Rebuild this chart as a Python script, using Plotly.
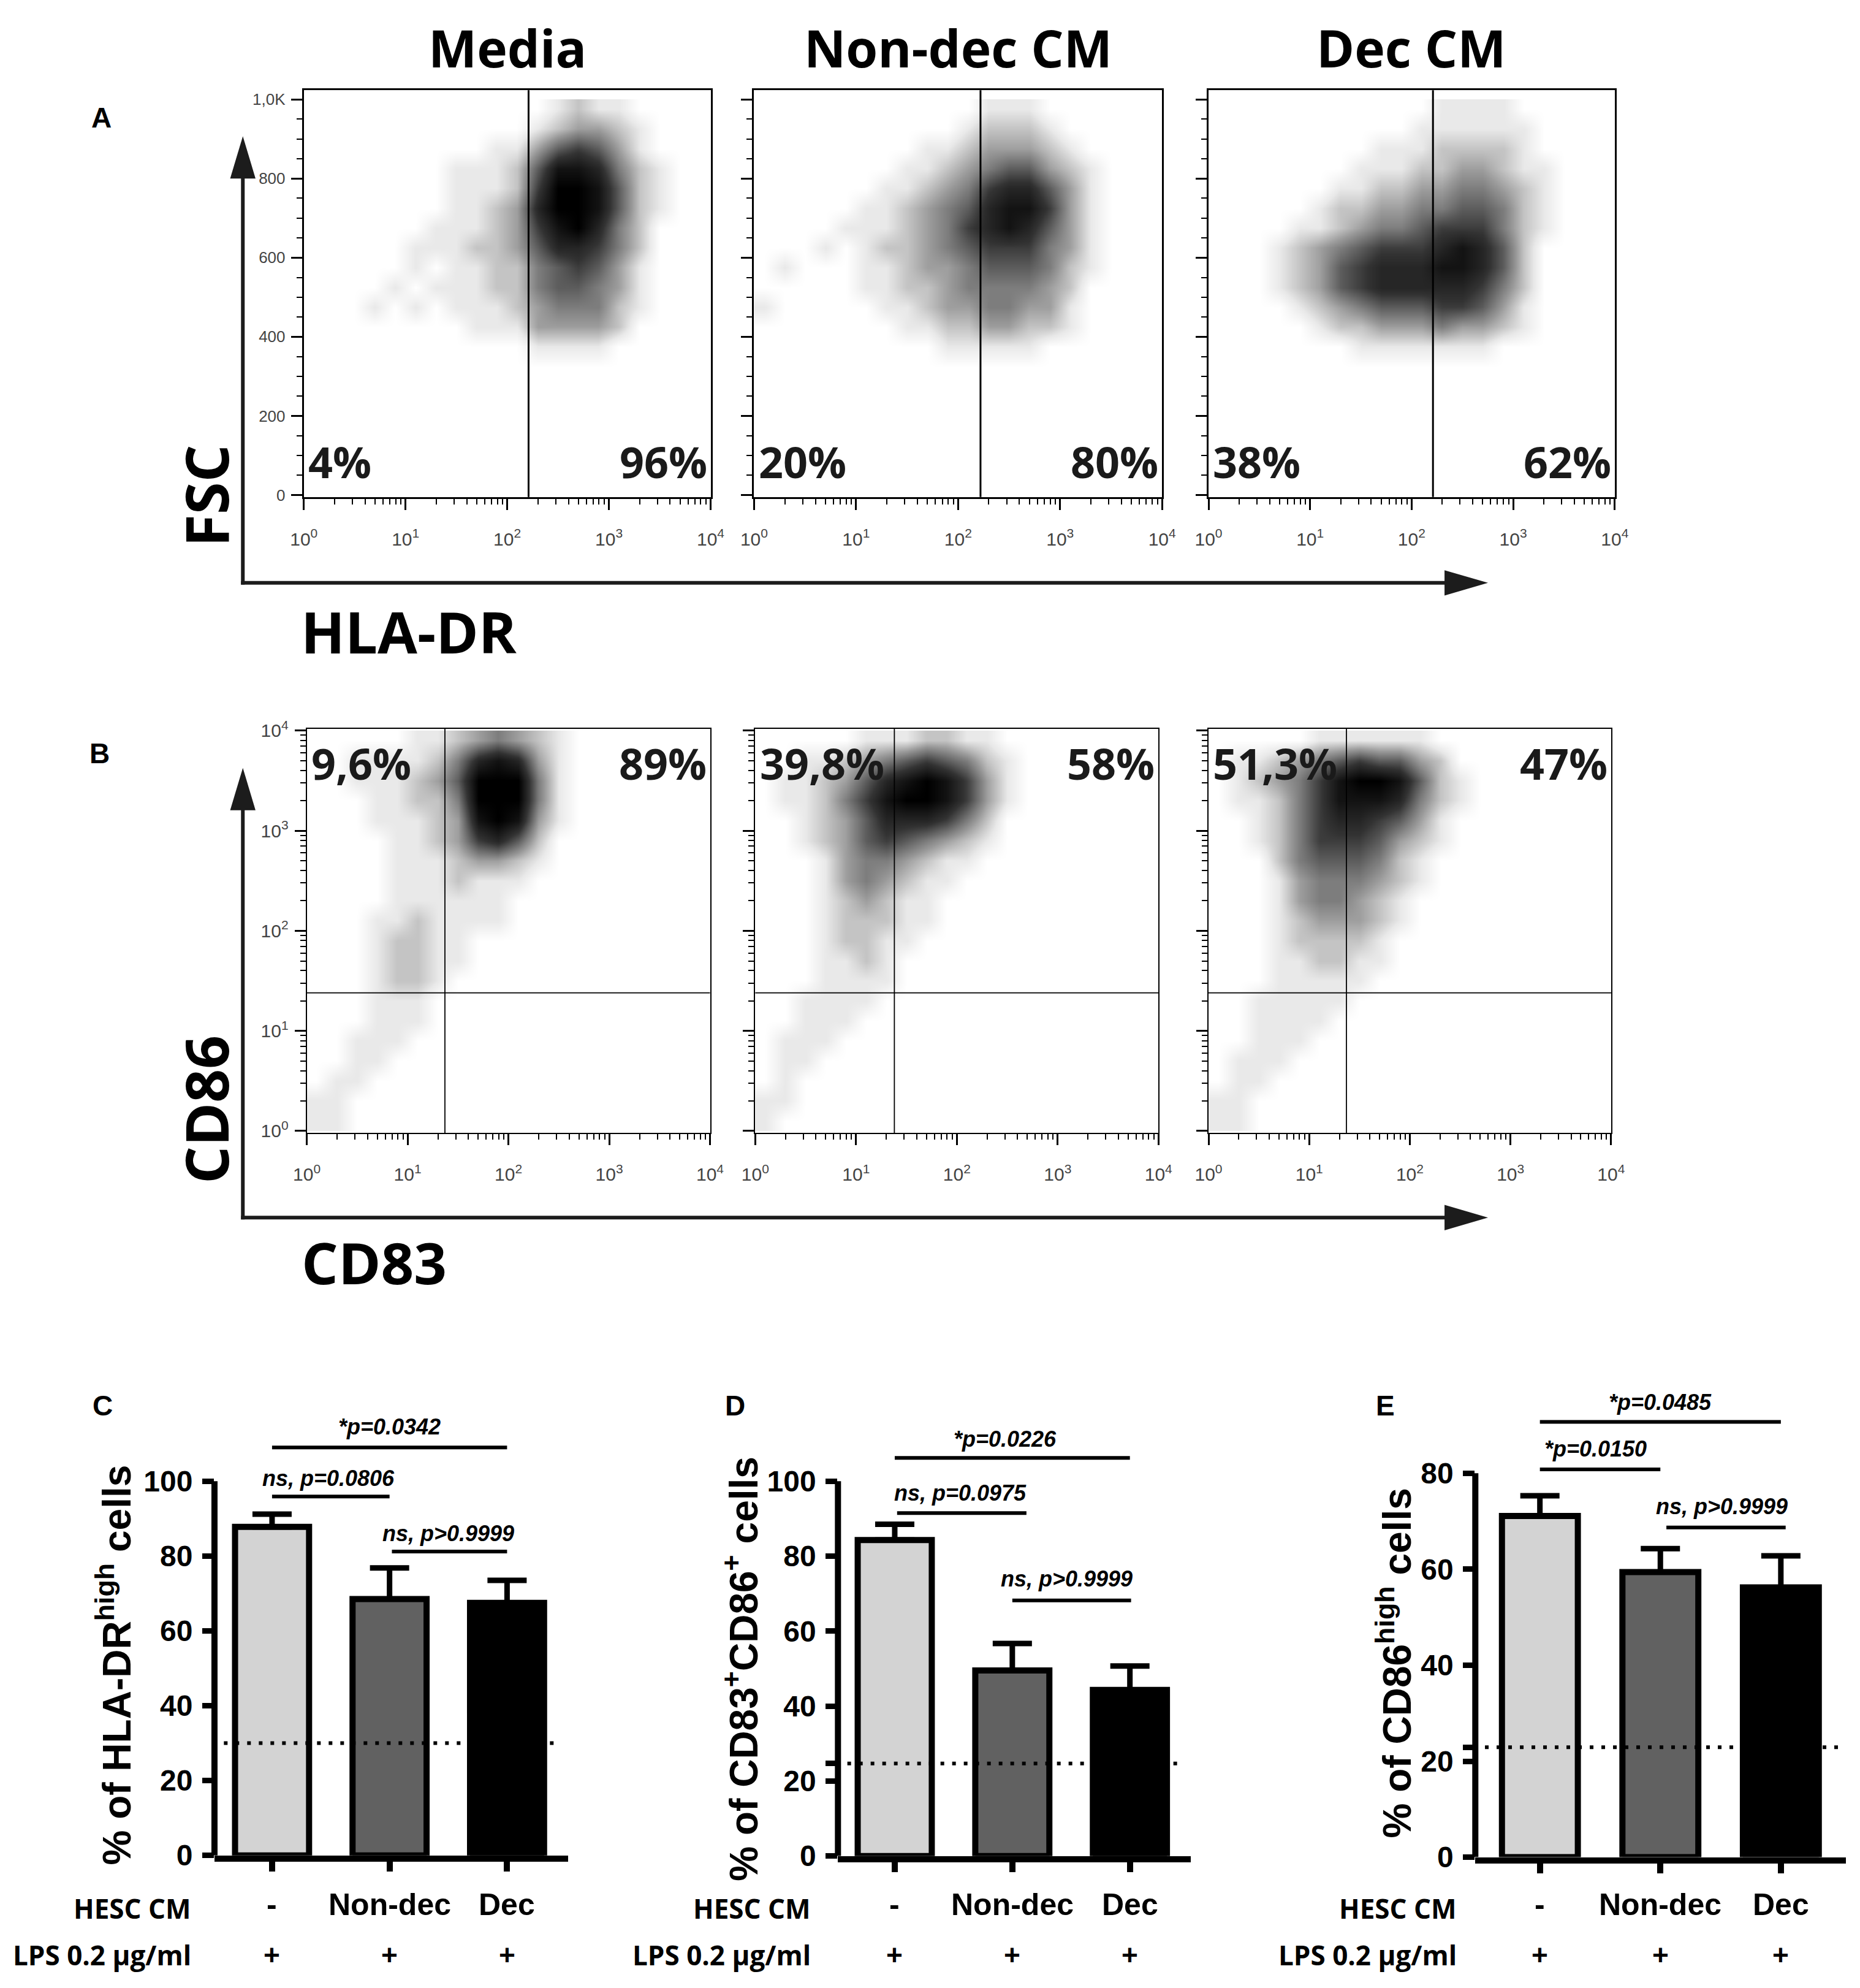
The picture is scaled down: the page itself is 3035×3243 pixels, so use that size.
import numpy as np
import plotly.graph_objects as go

W, H = 3035, 3243

# ---- flow cytometry panels (A, B) ----
CONDITIONS = ['Media', 'Non-dec CM', 'Dec CM']

# bin centres, in decades for the log channels and in FSC units for FSC
LOG_BINS = [0.1, 0.3, 0.5, 0.7, 0.9, 1.1, 1.3, 1.5, 1.7, 1.9,
            2.1, 2.3, 2.5, 2.7, 2.9, 3.1, 3.3, 3.5, 3.7, 3.9]
FSC_BINS = [25, 75, 125, 175, 225, 275, 325, 375, 425, 475,
            525, 575, 625, 675, 725, 775, 825, 875, 925, 975]

# event density, 0 = empty .. 9 = solid black
# rows run from the top of the plot down, columns left to right
media_hla = [
    "00000000000012110000",
    "00000000000123321000",
    "00000000011356531000",
    "00000001112588742100",
    "00000001112699852100",
    "00000001123799852100",
    "00000011123689742000",
    "00000111223577642000",
    "00000101122456531000",
    "00001011122455431000",
    "00010101112344421000",
    "00000000111333320000",
    "00000000000111100000",
    "00000000000000000000",
    "00000000000000000000",
    "00000000000000000000",
    "00000000000000000000",
    "00000000000000000000",
    "00000000000000000000",
    "00000000000000000000",
]
nondec_hla = [
    "00000000000111000000",
    "00000000001222100000",
    "00000000112333210000",
    "00000001123455321000",
    "00000011234677531000",
    "00000112345788631000",
    "00001112346787531000",
    "00010122345666431000",
    "01000112334555421000",
    "00000112234444320000",
    "10000011233443310000",
    "00000001122332210000",
    "00000000011111000000",
    "00000000000000000000",
    "00000000000000000000",
    "00000000000000000000",
    "00000000000000000000",
    "00000000000000000000",
    "00000000000000000000",
    "00000000000000000000",
]
dec_hla = [
    "00000000000111100000",
    "00000000001111110000",
    "00000000111222210000",
    "00000001112233211000",
    "00000011223344321000",
    "00000122334455421000",
    "00001123445666421000",
    "00012345666787520000",
    "00012356777887520000",
    "00012356777776420000",
    "00001234555665310000",
    "00000122333433210000",
    "00000001111111000000",
    "00000000000000000000",
    "00000000000000000000",
    "00000000000000000000",
    "00000000000000000000",
    "00000000000000000000",
    "00000000000000000000",
    "00000000000000000000",
]
media_cd = [
    "00000112343210000000",
    "00111124787310000000",
    "00111235999410000000",
    "00011224999410000000",
    "00011123898310000000",
    "00001123675200000000",
    "00001112332100000000",
    "00001112111000000000",
    "00001111110000000000",
    "00011211110000000000",
    "00012211000000000000",
    "00012211000000000000",
    "00012210000000000000",
    "00011100000000000000",
    "00011100000000000000",
    "00111000000000000000",
    "00110000000000000000",
    "01100000000000000000",
    "11000000000000000000",
    "11000000000000000000",
]
nondec_cd = [
    "00000111221100000000",
    "00112345654210000000",
    "01123578986310000000",
    "01124689986310000000",
    "00123577764200000000",
    "00123565432100000000",
    "00013443211000000000",
    "00013432110000000000",
    "00012321100000000000",
    "00012221100000000000",
    "00012211000000000000",
    "00011210000000000000",
    "00011110000000000000",
    "00111100000000000000",
    "00111000000000000000",
    "01110000000000000000",
    "01100000000000000000",
    "01000000000000000000",
    "11000000000000000000",
    "10000000000000000000",
]
dec_cd = [
    "00000111111000000000",
    "01123456553200000000",
    "01234689985210000000",
    "01124688874210000000",
    "00124677653100000000",
    "00124666532100000000",
    "00024555421000000000",
    "00013444321000000000",
    "00013443210000000000",
    "00012333210000000000",
    "00012222100000000000",
    "00011221100000000000",
    "00011111000000000000",
    "00111110000000000000",
    "00111100000000000000",
    "00111000000000000000",
    "01110000000000000000",
    "01100000000000000000",
    "11000000000000000000",
    "11000000000000000000",
]

HLA_GRIDS = [media_hla, nondec_hla, dec_hla]
CD_GRIDS = [media_cd, nondec_cd, dec_cd]

HLA_GATE = [2.21, 2.22, 2.21]          # decades
CD83_GATE = [1.37, 1.38, 1.37]
CD86_GATE = [1.38, 1.38, 1.38]

HLA_LOW = ['4%', '20%', '38%']
HLA_HIGH = ['96%', '80%', '62%']
CD_UPPER_LEFT = ['9,6%', '39,8%', '51,3%']
CD_UPPER_RIGHT = ['89%', '58%', '47%']

DECADE_LABELS = ['10<sup>0</sup>', '10<sup>1</sup>', '10<sup>2</sup>', '10<sup>3</sup>', '10<sup>4</sup>']
FSC_TICKS = [0, 200, 400, 600, 800, 1000]
FSC_LABELS = ['0', '200', '400', '600', '800', '1,0K']

# ---- bar panels (C, D, E) ----
HESC_CM = ['-', 'Non-dec', 'Dec']
LPS = ['+', '+', '+']
BAR_COLORS = ['#d3d3d3', '#616161', '#000000']

hla_high_mean = [87.8, 68.5, 67.5]
hla_high_sem = [3.4, 8.3, 6.0]
cd83_cd86_mean = [84.3, 49.5, 44.3]
cd83_cd86_sem = [4.2, 7.2, 6.4]
cd86_high_mean = [71.1, 59.4, 56.2]
cd86_high_sem = [4.2, 4.9, 6.6]
baseline = [30.0, 24.7, 22.9]

# (from group, to group, bracket height, label, label x, label y)
hla_brackets = [(0, 2, 109.0, '*p=0.0342', 1.0, 114.5),
                (0, 1, 95.9, 'ns, p=0.0806', 0.48, 100.7),
                (1.02, 2, 81.2, 'ns, p>0.9999', 1.5, 86.1)]
cd83_brackets = [(0, 2, 106.2, '*p=0.0226', 0.94, 111.3),
                 (0.02, 1.12, 91.5, 'ns, p=0.0975', 0.56, 96.9),
                 (1.0, 2.01, 68.2, 'ns, p>0.9999', 1.46, 73.9)]
cd86_brackets = [(0, 2, 90.7, '*p=0.0485', 1.0, 94.8),
                 (0, 1, 80.8, '*p=0.0150', 0.46, 85.1),
                 (1.05, 2.04, 68.7, 'ns, p>0.9999', 1.51, 73.1)]

BAR_PANELS = [
    dict(mean=hla_high_mean, sem=hla_high_sem, base=baseline[0], brackets=hla_brackets,
         ytitle='% of HLA-DR<sup>high</sup> cells', ymax=100, ytop=118, base_tick=False),
    dict(mean=cd83_cd86_mean, sem=cd83_cd86_sem, base=baseline[1], brackets=cd83_brackets,
         ytitle='% of CD83<sup>+</sup>CD86<sup>+</sup> cells', ymax=100, ytop=116, base_tick=True),
    dict(mean=cd86_high_mean, sem=cd86_high_sem, base=baseline[2], brackets=cd86_brackets,
         ytitle='% of CD86<sup>high</sup> cells', ymax=80, ytop=97, base_tick=True),
]


def px_x(x):
    return x / W


def px_y(y):
    return 1 - y / H


def dom_x(x0, x1):
    return [px_x(x0), px_x(x1)]


def dom_y(top, bottom):
    return [px_y(bottom), px_y(top)]


def sfx(n):
    # plotly names the first axis pair x / y
    return '' if n == 1 else str(n)


def label(x, y, text, size, family, xanchor='center', yanchor='middle', **kw):
    d = dict(xref='paper', yref='paper', x=x, y=y, text=text, showarrow=False,
             xanchor=xanchor, yanchor=yanchor, font=dict(family=family, size=size, color='black'))
    d.update(kw)
    return d


GRAYS = [[0, '#ffffff'], [0.111, '#e9e9e9'], [0.35, '#999999'], [0.7, '#333333'], [1, '#000000']]
BOLD = 'Open Sans'
ARIAL = 'Liberation Sans'

minor_log = [k + np.log10(m) for k in range(4) for m in range(2, 10)]
minor_fsc = [v for v in range(50, 1001, 50) if v % 200]

fig = go.Figure()
layout = dict(width=W, height=H, margin=dict(l=0, r=0, t=0, b=0),
              paper_bgcolor='white', plot_bgcolor='white', showlegend=False)
annotations = []
shapes = []

# pixel boxes of the flow panels
A_BOXES = [(480, 1154), (1226, 1902), (1979, 2652)]
B_BOXES = [(485, 1153), (1228, 1896), (1979, 2646)]
A_TOP, A_BOTTOM = 131, 804
B_TOP, B_BOTTOM = 1187, 1856


def flow_axes(n, xb, top, bottom, yr, yticks, ylabels, yminor, show_y, lw):
    s = sfx(n)
    common = dict(showline=True, mirror=True, linecolor='black', linewidth=lw,
                  showgrid=False, zeroline=False, ticks='outside', tickcolor='black',
                  ticklen=18, tickwidth=2.5)
    layout[f'xaxis{s}'] = dict(common, domain=dom_x(*xb), anchor=f'y{s}', range=[0, 4],
                               tickmode='array', tickvals=[0, 1, 2, 3, 4], ticktext=DECADE_LABELS,
                               ticklabelstandoff=22, tickfont=dict(family=ARIAL, size=30, color='#444'),
                               minor=dict(tickmode='array', tickvals=minor_log, ticks='outside',
                                          ticklen=9, tickwidth=2, tickcolor='black'))
    layout[f'yaxis{s}'] = dict(common, domain=dom_y(top, bottom), anchor=f'x{s}', range=yr,
                               tickmode='array', tickvals=yticks, ticktext=ylabels,
                               showticklabels=show_y, ticklabelstandoff=4,
                               tickfont=dict(family=ARIAL, size=26 if yr[1] > 100 else 30, color='#444'),
                               minor=dict(tickmode='array', tickvals=yminor, ticks='outside',
                                          ticklen=9, tickwidth=2, tickcolor='black'))


for i in range(3):
    # row A: FSC vs HLA-DR
    s = sfx(i + 1)
    flow_axes(i + 1, A_BOXES[i], A_TOP, A_BOTTOM, [-5, 1023], FSC_TICKS, FSC_LABELS, minor_fsc, i == 0, 3)
    z = [[int(c) for c in row] for row in reversed(HLA_GRIDS[i])]
    fig.add_trace(go.Heatmap(x=LOG_BINS, y=FSC_BINS, z=z, zmin=0, zmax=9, zsmooth='best',
                             colorscale=GRAYS, showscale=False, xaxis=f'x{s}', yaxis=f'y{s}'))
    shapes.append(dict(type='line', xref=f'x{s}', yref=f'y{s} domain', x0=HLA_GATE[i], x1=HLA_GATE[i],
                       y0=0, y1=1, line=dict(color='black', width=3)))
    annotations.append(dict(xref=f'x{s} domain', yref=f'y{s} domain', x=0.008, y=0.012,
                            xanchor='left', yanchor='bottom', text=f'<b>{HLA_LOW[i]}</b>', showarrow=False,
                            font=dict(family=BOLD, size=70, color='#1a1a1a')))
    annotations.append(dict(xref=f'x{s} domain', yref=f'y{s} domain', x=0.994, y=0.012,
                            xanchor='right', yanchor='bottom', text=f'<b>{HLA_HIGH[i]}</b>', showarrow=False,
                            font=dict(family=BOLD, size=70, color='#1a1a1a')))
    annotations.append(label(px_x(sum(A_BOXES[i]) / 2), 1.0, f'<b>{CONDITIONS[i]}</b>', 84, BOLD,
                             yanchor='top'))

    # row B: CD86 vs CD83
    s = sfx(i + 4)
    flow_axes(i + 4, B_BOXES[i], B_TOP, B_BOTTOM, [-0.02, 4.02], [0, 1, 2, 3, 4], DECADE_LABELS,
              minor_log, i == 0, 2)
    z = [[int(c) for c in row] for row in reversed(CD_GRIDS[i])]
    fig.add_trace(go.Heatmap(x=LOG_BINS, y=LOG_BINS, z=z, zmin=0, zmax=9, zsmooth='best',
                             colorscale=GRAYS, showscale=False, xaxis=f'x{s}', yaxis=f'y{s}'))
    shapes.append(dict(type='line', xref=f'x{s}', yref=f'y{s} domain', x0=CD83_GATE[i], x1=CD83_GATE[i],
                       y0=0, y1=1, line=dict(color='black', width=1.8)))
    shapes.append(dict(type='line', xref=f'x{s} domain', yref=f'y{s}', x0=0, x1=1, y0=CD86_GATE[i],
                       y1=CD86_GATE[i], line=dict(color='black', width=1.8)))
    annotations.append(dict(xref=f'x{s} domain', yref=f'y{s} domain', x=0.008, y=0.99,
                            xanchor='left', yanchor='top', text=f'<b>{CD_UPPER_LEFT[i]}</b>', showarrow=False,
                            font=dict(family=BOLD, size=70, color='#1a1a1a')))
    annotations.append(dict(xref=f'x{s} domain', yref=f'y{s} domain', x=0.994, y=0.99,
                            xanchor='right', yanchor='top', text=f'<b>{CD_UPPER_RIGHT[i]}</b>', showarrow=False,
                            font=dict(family=BOLD, size=70, color='#1a1a1a')))


# big L-shaped axis arrows for rows A and B
def arrow_frame(corner_y, tip_y, ylab, xlab, ylab_y, xlab_x, xlab_y):
    cx, tip_x = 379, 2442
    ink = '#1c1c1c'
    shapes.append(dict(type='line', xref='paper', yref='paper', x0=px_x(cx), x1=px_x(cx),
                       y0=px_y(corner_y + 3), y1=px_y(tip_y + 60), line=dict(color=ink, width=6)))
    shapes.append(dict(type='line', xref='paper', yref='paper', x0=px_x(cx - 3), x1=px_x(tip_x - 60),
                       y0=px_y(corner_y), y1=px_y(corner_y), line=dict(color=ink, width=6)))
    shapes.append(dict(type='path', xref='paper', yref='paper', fillcolor=ink, line=dict(width=0),
                       path=f'M {px_x(cx - 21)} {px_y(tip_y + 70)} L {px_x(cx + 21)} {px_y(tip_y + 70)} '
                            f'L {px_x(cx)} {px_y(tip_y)} Z'))
    shapes.append(dict(type='path', xref='paper', yref='paper', fillcolor=ink, line=dict(width=0),
                       path=f'M {px_x(tip_x - 72)} {px_y(corner_y - 21)} L {px_x(tip_x - 72)} {px_y(corner_y + 21)} '
                            f'L {px_x(tip_x)} {px_y(corner_y)} Z'))
    annotations.append(label(px_x(318), px_y(ylab_y), f'<b>{ylab}</b>', 96, BOLD, textangle=-90))
    annotations.append(label(px_x(xlab_x), px_y(xlab_y), f'<b>{xlab}</b>', 94, BOLD))


arrow_frame(946, 207, 'FSC', 'HLA-DR', 802, 654, 1026)
arrow_frame(1996, 1252, 'CD86', 'CD83', 1817, 597, 2070)

# ---- bar charts ----
BAR_GEOM = [  # left px, right px, x range, px per unit, bottom px (0)
    (332, 918, [-0.49, 2.52], 6.19, 3051),
    (1365, 1950, [-0.483, 2.52], 6.20, 3052),
    (2421, 3035, [-0.536, 2.54], 7.94, 3054),
]
ROW_LABEL_RIGHT = [295, 1322, 2392]
YTITLE_X = [166, 1204, 2287]
YTITLE_Y = [2736, 2742, 2733]

for j, p in enumerate(BAR_PANELS):
    s = sfx(j + 7)
    left, right, xr, scale, bottom = BAR_GEOM[j]
    top = bottom - p['ytop'] * scale
    yticks = list(range(0, p['ymax'] + 1, 20))
    ylabels = [str(v) for v in yticks]
    if p['base_tick']:
        # Prism marks the baseline level on the value axis as well
        yticks.append(p['base'])
        ylabels.append('')
    layout[f'xaxis{s}'] = dict(domain=dom_x(left, right), anchor=f'y{s}', range=xr,
                               showline=True, linecolor='black', linewidth=10, showgrid=False,
                               zeroline=False, tickmode='array', tickvals=[0, 1, 2], ticks='outside',
                               ticklen=16, tickwidth=10, tickcolor='black', showticklabels=False)
    layout[f'yaxis{s}'] = dict(domain=dom_y(top, bottom), anchor=f'x{s}', range=[0, p['ytop']],
                               showline=False, showgrid=False, zeroline=False,
                               tickmode='array', tickvals=yticks, ticktext=ylabels, ticks='outside',
                               ticklen=19, tickwidth=9, tickcolor='black', ticklabelstandoff=6,
                               tickfont=dict(family=ARIAL, size=48, color='black', weight='bold'))
    # value axis line stops at the top tick
    shapes.append(dict(type='line', xref=f'x{s} domain', yref=f'y{s}', x0=0, x1=0, y0=0, y1=p['ymax'],
                       line=dict(color='black', width=10)))
    fig.add_trace(go.Bar(x=[0, 1, 2], y=p['mean'], width=0.63, cliponaxis=False,
                         marker=dict(color=BAR_COLORS, line=dict(color='black', width=10)),
                         error_y=dict(type='data', symmetric=False, array=p['sem'], arrayminus=[0, 0, 0],
                                      color='black', thickness=9, width=32),
                         xaxis=f'x{s}', yaxis=f'y{s}'))
    fig.add_trace(go.Scatter(x=[xr[0] + 0.08, xr[1] - 0.06], y=[p['base'], p['base']], mode='lines',
                             line=dict(color='black', width=6, dash='6px,13px'),
                             xaxis=f'x{s}', yaxis=f'y{s}'))
    for x0, x1, h, text, lx, ly in p['brackets']:
        fig.add_trace(go.Scatter(x=[x0, x1], y=[h, h], mode='lines',
                                 line=dict(color='black', width=6), xaxis=f'x{s}', yaxis=f'y{s}'))
        annotations.append(dict(xref=f'x{s}', yref=f'y{s}', x=lx, y=ly, text=f'<b><i>{text}</i></b>',
                                showarrow=False, xanchor='center', yanchor='middle',
                                font=dict(family=ARIAL, size=36, color='black')))
    annotations.append(label(px_x(YTITLE_X[j]), px_y(YTITLE_Y[j]), f"<b>{p['ytitle']}</b>", 64, ARIAL,
                             textangle=-90))
    annotations.append(label(px_x(ROW_LABEL_RIGHT[j]), px_y(3139), '<b>HESC CM</b>', 44, BOLD, xanchor='right'))
    annotations.append(label(px_x(ROW_LABEL_RIGHT[j]), px_y(3216), '<b>LPS 0.2 \u03bcg/ml</b>', 44, BOLD,
                             xanchor='right'))
    for k in range(3):
        annotations.append(dict(xref=f'x{s}', yref='paper', x=k, y=px_y(3132), text=f'<b>{HESC_CM[k]}</b>',
                                showarrow=False, xanchor='center', yanchor='middle',
                                font=dict(family=ARIAL, size=50, color='black')))
        annotations.append(dict(xref=f'x{s}', yref='paper', x=k, y=px_y(3216), text=f'<b>{LPS[k]}</b>',
                                showarrow=False, xanchor='center', yanchor='middle',
                                font=dict(family=ARIAL, size=46, color='black')))

# panel letters
for letter, (lx, ly) in zip('ABCDE', [(145, 176), (142, 1228), (147, 2307), (1195, 2307), (2272, 2307)]):
    annotations.append(label(px_x(lx), px_y(ly), f'<b>{letter}</b>', 46, ARIAL))

layout['annotations'] = annotations
layout['shapes'] = shapes
fig.update_layout(**layout)

fig.write_html("out.html", config=dict(displayModeBar=False),
               post_script="document.body.style.margin='0';")
